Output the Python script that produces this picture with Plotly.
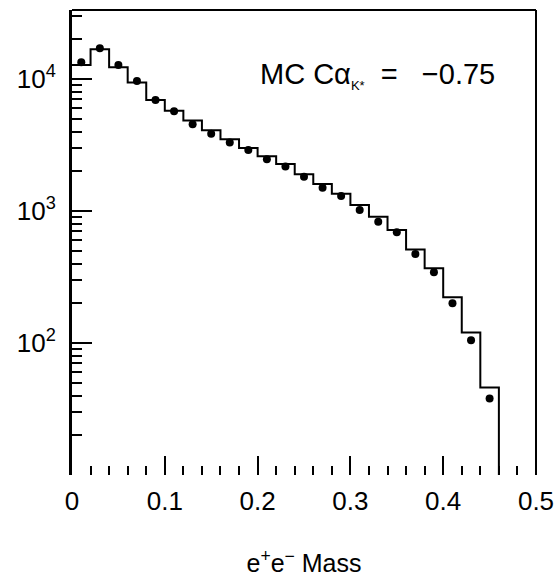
import plotly.graph_objects as go

# ---- data ----
bin_edges = [0.00, 0.02, 0.04, 0.06, 0.08, 0.10, 0.12, 0.14, 0.16, 0.18, 0.20, 0.22,
             0.24, 0.26, 0.28, 0.30, 0.32, 0.34, 0.36, 0.38, 0.40, 0.42, 0.44, 0.46]
mc_counts = [12800, 16800, 12300, 9400, 6950, 5750, 4850, 4100, 3500, 3000, 2600, 2270,
             1900, 1600, 1350, 1110, 905, 717, 511, 368, 222, 120, 46]
data_counts = [13400, 17100, 12800, 9650, 6950, 5700, 4550, 3850, 3300, 2900, 2470, 2170,
               1820, 1500, 1300, 1020, 830, 690, 472, 343, 200, 105, 38]

x_tickvals = [0, 0.1, 0.2, 0.3, 0.4, 0.5]
x_ticktext = ["0", "0.1", "0.2", "0.3", "0.4", "0.5"]
x_minor = [0.02, 0.04, 0.06, 0.08, 0.12, 0.14, 0.16, 0.18, 0.22, 0.24, 0.26, 0.28,
           0.32, 0.34, 0.36, 0.38, 0.42, 0.44, 0.46, 0.48]
y_tickvals = [100, 1000, 10000]
y_ticktext = ["10<sup>2</sup>", "10<sup>3</sup>", "10<sup>4</sup>"]
y_minor = [20, 30, 40, 50, 60, 70, 80, 90,
           200, 300, 400, 500, 600, 700, 800, 900,
           2000, 3000, 4000, 5000, 6000, 7000, 8000, 9000, 20000, 30000]

y_log_range = [1.0, 4.523]
x_range = [0, 0.5]

FONT = "Liberation Sans, Arial, Helvetica, sans-serif"

# histogram outline (step), dropping to the axis floor at the last edge
y_floor = 10 ** y_log_range[0]
hist_x = bin_edges + [bin_edges[-1]]
hist_y = mc_counts + [mc_counts[-1], y_floor]

centers = [(bin_edges[i] + bin_edges[i + 1]) / 2 for i in range(len(bin_edges) - 1)]

fig = go.Figure()
fig.add_trace(go.Scatter(x=hist_x, y=hist_y, mode="lines", line_shape="hv",
                         line=dict(color="black", width=2), hoverinfo="skip"))
fig.add_trace(go.Scatter(x=centers, y=data_counts, mode="markers",
                         marker=dict(color="black", size=8, line=dict(width=0))))

fig.update_layout(
    width=558, height=577,
    margin=dict(l=72, r=22, t=10, b=102),
    paper_bgcolor="white", plot_bgcolor="white",
    showlegend=False,
    font=dict(family=FONT, size=26, color="black"),
    xaxis=dict(
        range=x_range, tickmode="array", tickvals=x_tickvals, ticktext=x_ticktext,
        ticks="inside", ticklen=19, tickwidth=2, tickcolor="black",
        minor=dict(tickmode="array", tickvals=x_minor, ticks="inside", ticklen=9,
                   tickwidth=2, tickcolor="black", showgrid=False),
        showline=False, showgrid=False, zeroline=False, automargin=False,
        tickfont=dict(size=26), ticklabelstandoff=8,
        title=dict(text="e<sup>+</sup>e<sup>\u2212</sup> Mass", font=dict(size=25), standoff=46),
    ),
    yaxis=dict(
        type="log", range=y_log_range, tickmode="array", tickvals=y_tickvals,
        ticktext=y_ticktext, ticks="inside", ticklen=20, tickwidth=2, tickcolor="black",
        minor=dict(tickmode="array", tickvals=y_minor, ticks="inside", ticklen=10,
                   tickwidth=2, tickcolor="black", showgrid=False),
        showline=True, linewidth=3, linecolor="black", showgrid=False, zeroline=False,
        automargin=False, tickfont=dict(size=26), ticklabelstandoff=8,
    ),
    shapes=[
        dict(type="line", xref="x domain", yref="y domain", x0=0, x1=1, y0=1, y1=1,
             line=dict(color="black", width=2)),
        dict(type="line", xref="x domain", yref="y domain", x0=1, x1=1, y0=0, y1=1,
             line=dict(color="black", width=2)),
    ],
    annotations=[
        dict(x=0.2004, y=4.023, xref="x", yref="y", xanchor="left", yanchor="middle",
             showarrow=False, font=dict(size=29, family=FONT, color="black"),
             text="MC C\u03b1<sub><span style=\"font-size:13px;color:black\">K*</span></sub>"
                  "\u00a0\u00a0=\u00a0\u00a0\u00a0\u22120.75"),
    ],
)

fig.write_html("out.html")
